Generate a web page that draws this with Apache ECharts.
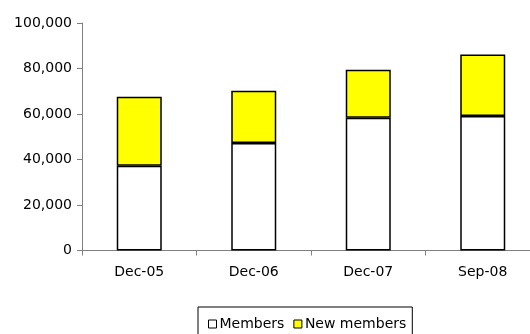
<!DOCTYPE html>
<html>
<head>
<meta charset="utf-8">
<script src="https://cdn.jsdelivr.net/npm/echarts@6/dist/echarts.min.js"></script>
<style>html,body{margin:0;padding:0;background:#fff}#c{width:530px;height:334px}</style>
</head>
<body>
<div id="c"></div>
<script>
const categories = ['Dec-05', 'Dec-06', 'Dec-07', 'Sep-08'];
const members = [37300, 47250, 58400, 59100];
const newMembers = [30300, 23000, 21100, 27000];
const yTicks = [0, 20000, 40000, 60000, 80000, 100000];

const chart = echarts.init(document.getElementById('c'));
const font = 'DejaVu Sans, sans-serif';
chart.setOption({
  animation: false,
  grid: { left: 82, top: 23, bottom: 83.5, width: 458, outerBoundsMode: 'none', containLabel: false },
  xAxis: {
    type: 'category',
    data: categories,
    axisLine: { lineStyle: { color: '#808080', width: 1 } },
    axisTick: { show: true, length: 5, lineStyle: { color: '#808080' } },
    axisLabel: { color: '#000', fontFamily: font, fontSize: 14, margin: 15 }
  },
  yAxis: {
    type: 'value',
    min: yTicks[0],
    max: yTicks[yTicks.length - 1],
    interval: 20000,
    splitLine: { show: false },
    axisLine: { show: true, lineStyle: { color: '#808080', width: 1 } },
    axisTick: { show: true, length: 5, lineStyle: { color: '#808080' } },
    axisLabel: {
      color: '#000', fontFamily: font, fontSize: 14, margin: 10,
      formatter: v => v.toLocaleString('en-US')
    }
  },
  legend: {
    left: 198, top: 307,
    padding: [10, 6, 20, 10],
    borderColor: '#000', borderWidth: 1,
    itemWidth: 8, itemHeight: 8, itemGap: 9,
    icon: 'rect',
    textStyle: { fontFamily: font, fontSize: 14, color: '#000', padding: [0, 0, 0, -2] },
    data: [
      { name: 'Members', itemStyle: { color: '#fff', borderColor: '#000', borderWidth: 1 } },
      { name: 'New members', itemStyle: { color: '#ffff00', borderColor: '#000', borderWidth: 1 } }
    ]
  },
  series: [
    {
      name: 'Members', type: 'bar', stack: 't', data: members, barWidth: 45,
      itemStyle: { color: '#fff', borderColor: '#000', borderWidth: 1.5 }
    },
    {
      name: 'New members', type: 'bar', stack: 't', data: newMembers, barWidth: 45,
      itemStyle: { color: '#ffff00', borderColor: '#000', borderWidth: 1.5 }
    }
  ]
});
</script>
</body>
</html>
